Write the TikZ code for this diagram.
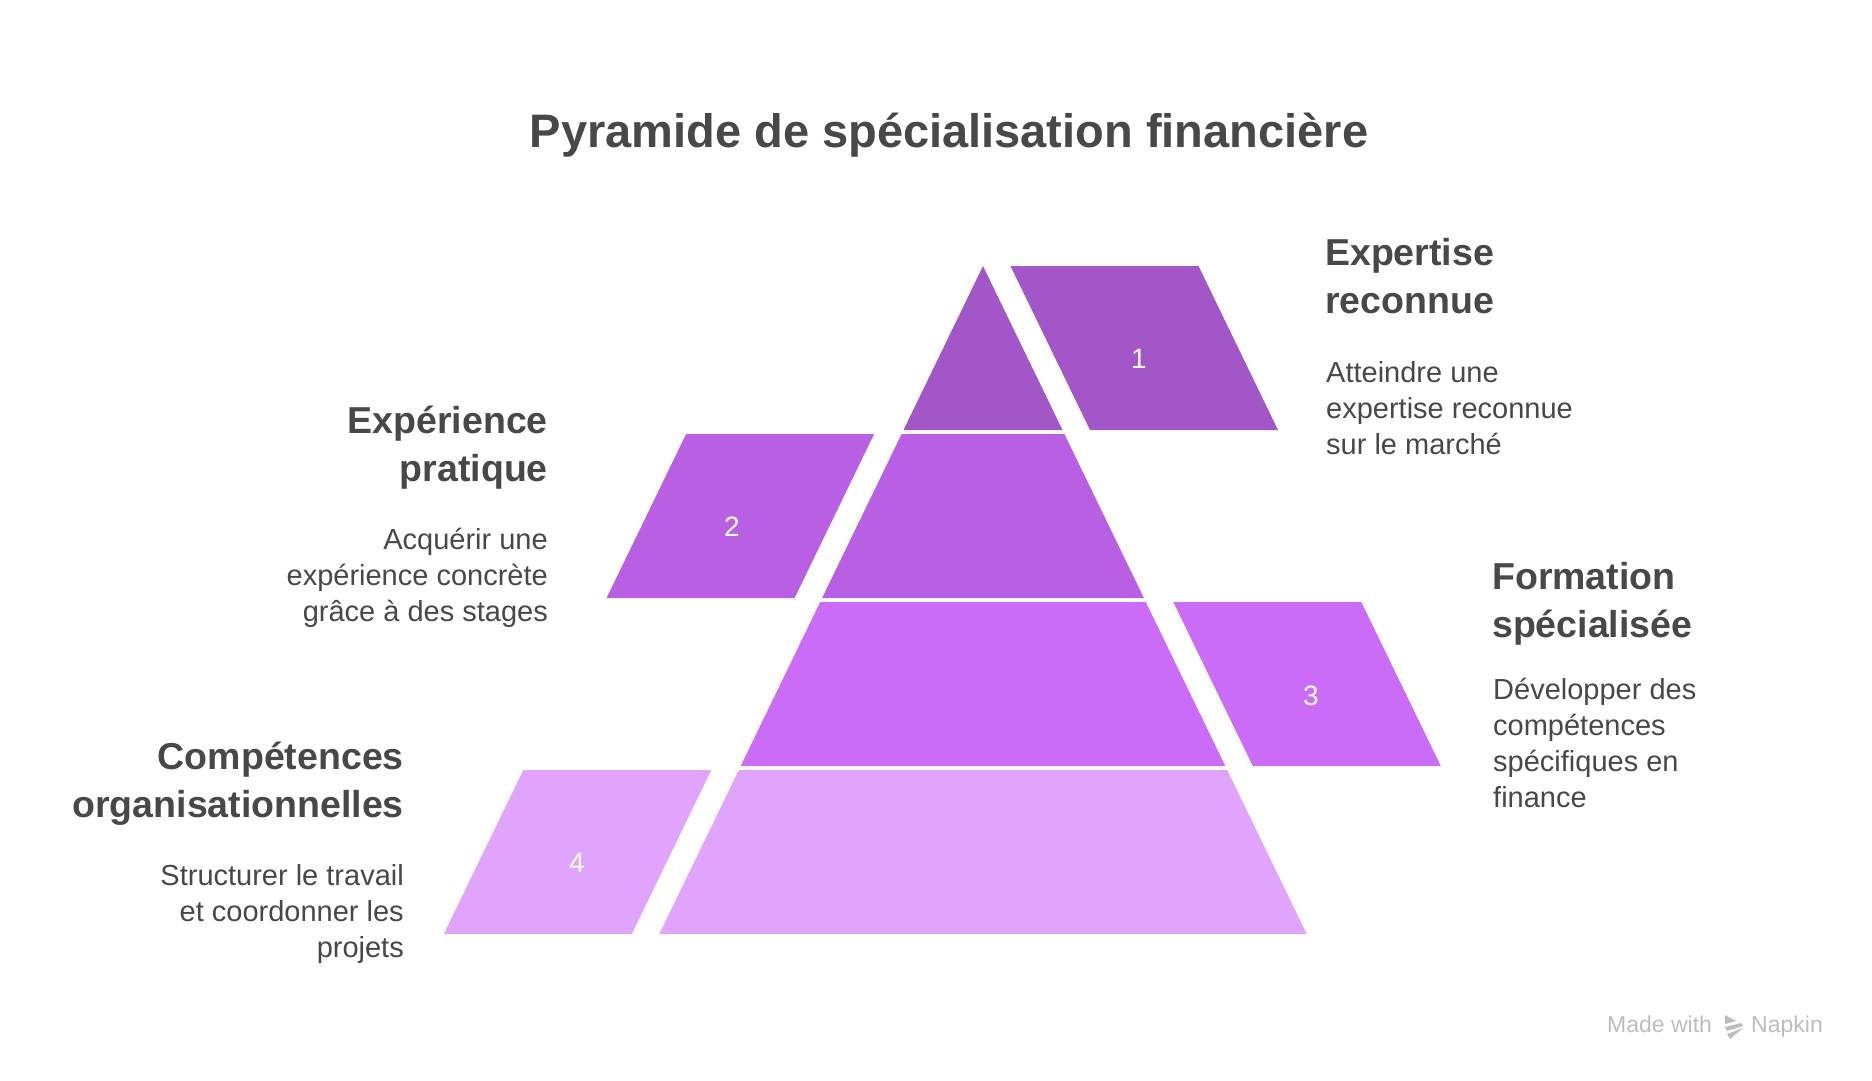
\documentclass[tikz,border=0pt]{standalone}
\usepackage{fontspec}
\setmainfont{Liberation Sans}
\tikzstyle{level slice}=[fill=#1, draw=none]
\tikzstyle{level number}=[text=white, font=\fontsize{28}{30}\selectfont, inner sep=0]
\tikzstyle{level title}=[text=textgray, font=\fontsize{37.5}{48}\selectfont\bfseries, inner sep=0]
\tikzstyle{level text}=[text=textgray, font=\fontsize{29}{36}\selectfont, inner sep=0]
\definecolor{textgray}{RGB}{72, 72, 72}
\definecolor{markgray}{RGB}{189, 189, 189}
\definecolor{levelone}{RGB}{163, 86, 200}
\definecolor{leveltwo}{RGB}{185, 95, 227}
\definecolor{levelthree}{RGB}{203, 108, 249}
\definecolor{levelfour}{RGB}{225, 164, 253}

\begin{document}
\begin{tikzpicture}[x=1pt, y=-1pt]
		\useasboundingbox [fill=white] (0,0) rectangle (1872,1080);
		\node [text=textgray, font=\fontsize{47}{52}\selectfont\bfseries, inner sep=0, anchor=base] (title) at (949,147) {Pyramide de spécialisation financière};
		
		% pyramid and side blocks
		\fill [level slice=levelone] (983,266) -- (1062.5,430) -- (903.5,430) -- cycle;
		\fill [level slice=levelone] (1010.5,266) -- (1198.5,266) -- (1278,430) -- (1090,430) -- cycle;
		\fill [level slice=leveltwo] (901.6,434) -- (1064.4,434) -- (1143.9,598) -- (822.1,598) -- cycle;
		\fill [level slice=leveltwo] (686.1,434) -- (874.1,434) -- (794.6,598) -- (606.6,598) -- cycle;
		\fill [level slice=levelthree] (820.2,602) -- (1145.8,602) -- (1225.3,766) -- (740.7,766) -- cycle;
		\fill [level slice=levelthree] (1173.3,602) -- (1361.3,602) -- (1440.8,766) -- (1252.8,766) -- cycle;
		\fill [level slice=levelfour] (738.8,770) -- (1227.2,770) -- (1306.7,934) -- (659.3,934) -- cycle;
		\fill [level slice=levelfour] (523.3,770) -- (711.3,770) -- (631.8,934) -- (443.8,934) -- cycle;
		
		\node [level number] (n1) at (1139,359) {1};
		\node [level number] (n2) at (732,527) {2};
		\node [level number] (n3) at (1311,696) {3};
		\node [level number] (n4) at (577,863) {4};
		
		% labels (placed at the baseline of their last line)
		\node [level title, anchor=base west, align=left] (t1) at (1325,313) {Expertise\\reconnue};
		\node [level text, anchor=base west, align=left] (d1) at (1326,454) {Atteindre une\\expertise reconnue\\sur le marché};
		\node [level title, anchor=base east, align=right] (t2) at (548,481) {Expérience\\pratique};
		\node [level text, anchor=base east, align=right] (d2) at (548,621) {Acquérir une\\expérience concrète\\grâce à des stages};
		\node [level title, anchor=base west, align=left] (t3) at (1492,637) {Formation\\spécialisée};
		\node [level text, anchor=base west, align=left] (d3) at (1493,807) {Développer des\\compétences\\spécifiques en\\finance};
		\node [level title, anchor=base east, align=right] (t4) at (404,817) {Compétences\\organisationnelles};
		\node [level text, anchor=base east, align=right] (d4) at (404,957) {Structurer le travail\\et coordonner les\\projets};
		
		% watermark
		\node [text=markgray, font=\fontsize{23}{24}\selectfont, inner sep=0, anchor=base west] (made) at (1607,1032) {Made with};
		\node [text=markgray, font=\fontsize{23}{24}\selectfont, inner sep=0, anchor=base west] (napkin) at (1751,1032) {Napkin};
		\fill [markgray] (1725,1015) -- (1736,1021) -- (1725,1024) -- cycle;
		\fill [markgray] (1725,1027) -- (1741,1023) -- (1743,1026) -- (1727,1031) -- cycle;
		\fill [markgray] (1727,1034) -- (1743,1028) -- (1730,1039) -- cycle;
	\end{tikzpicture}
\end{document}
